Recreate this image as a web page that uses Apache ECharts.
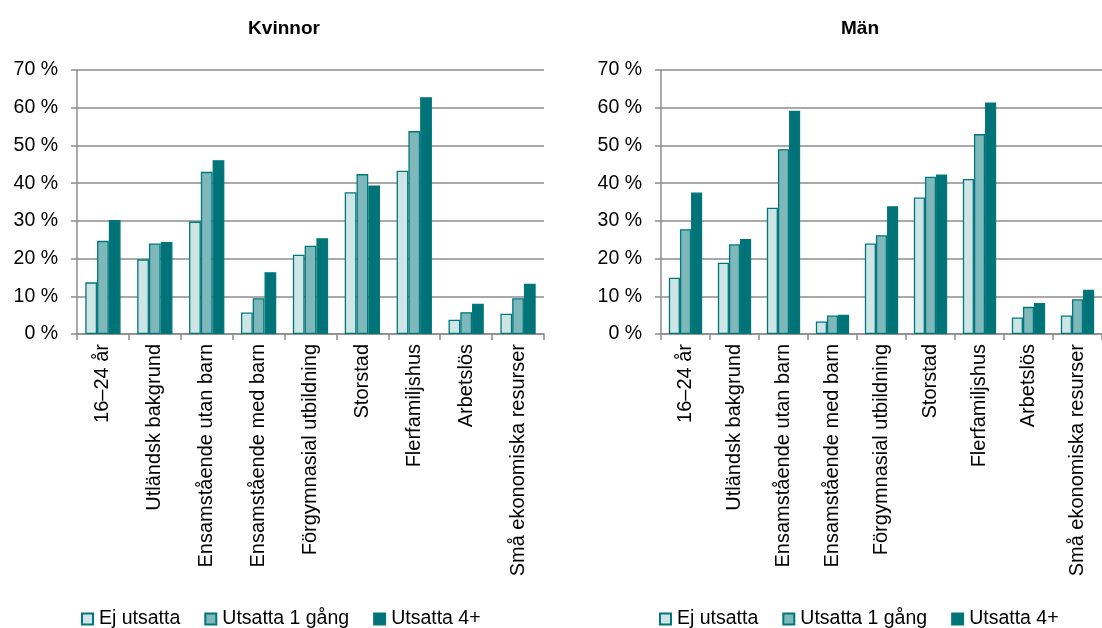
<!DOCTYPE html>
<html><head><meta charset="utf-8">
<script src="https://cdn.jsdelivr.net/npm/echarts@6/dist/echarts.min.js"></script>
<style>html,body{margin:0;padding:0;background:#fff}#c{width:1102px;height:628px}</style>
</head><body><div id="c"></div>
<script>
const categories = ['16–24 år','Utländsk bakgrund','Ensamstående utan barn','Ensamstående med barn','Förgymnasial utbildning','Storstad','Flerfamiljshus','Arbetslös','Små ekonomiska resurser'];
const seriesNames = ['Ej utsatta','Utsatta 1 gång','Utsatta 4+'];
const kvinnorEj = [13.7,19.8,29.8,5.7,21.0,37.6,43.3,3.8,5.4];
const kvinnor1 = [24.7,24.0,43.0,9.5,23.4,42.4,53.8,5.8,9.5];
const kvinnor4 = [30.2,24.4,46.1,16.4,25.4,39.4,62.8,8.0,13.3];
const manEj = [14.9,18.9,33.5,3.3,24.0,36.2,41.1,4.4,4.9];
const man1 = [27.8,23.8,49.0,4.9,26.2,41.7,53.0,7.2,9.2];
const man4 = [37.5,25.2,59.2,5.1,33.9,42.3,61.4,8.2,11.7];
const yTicks = {min:0,max:70,interval:10};

const fills = ['#cde5e5','#7fb8bb','#007378'];
const border = '#00777b';
const font = "'Liberation Sans', Arial, sans-serif";

function xAxis(i){return {type:'category',gridIndex:i,data:categories,
  axisLine:{lineStyle:{color:'#8c8c8c',width:1.5}},
  axisTick:{show:true,length:6,lineStyle:{color:'#8c8c8c',width:1.5}},
  axisLabel:{rotate:90,margin:10,fontSize:20,color:'#000',fontFamily:font,interval:0}};}
function yAxis(i){return {type:'value',gridIndex:i,min:yTicks.min,max:yTicks.max,interval:yTicks.interval,
  axisLine:{show:true,lineStyle:{color:'#8c8c8c',width:1.5}},
  axisTick:{show:true,length:6,lineStyle:{color:'#8c8c8c',width:1.5}},
  splitLine:{lineStyle:{color:'#8c8c8c',width:1.5}},
  axisLabel:{formatter:'{value} %',margin:19,fontSize:19.5,color:'#000',fontFamily:font}};}
function bar(name,data,k,i){return {type:'bar',name:name,data:data,xAxisIndex:i,yAxisIndex:i,
  barGap:'0%',barCategoryGap:'32%',
  itemStyle:{color:fills[k],borderColor:border,borderWidth:1.3},
  emphasis:{disabled:true}};}

const chart = echarts.init(document.getElementById('c'),null,{renderer:'canvas'});
chart.setOption({
  animation:false,
  backgroundColor:'#fff',
  title:[
    {text:'Kvinnor',left:279,top:14,textAlign:'center',textStyle:{fontSize:19,fontWeight:'bold',color:'#000',fontFamily:font}},
    {text:'Män',left:855,top:14,textAlign:'center',textStyle:{fontSize:19,fontWeight:'bold',color:'#000',fontFamily:font}}
  ],
  legend:[
    {left:76,top:604,itemWidth:11,itemHeight:11,itemGap:24,icon:'rect',data:seriesNames,
     textStyle:{fontSize:19.5,color:'#000',fontFamily:font,padding:[0,0,0,1]}},
    {left:654,top:604,itemWidth:11,itemHeight:11,itemGap:24,icon:'rect',data:seriesNames,
     textStyle:{fontSize:19.5,color:'#000',fontFamily:font,padding:[0,0,0,1]}}
  ],
  grid:[
    {left:77,top:70,width:467,height:264},
    {left:661,top:70,width:452,height:264}
  ],
  xAxis:[xAxis(0),xAxis(1)],
  yAxis:[yAxis(0),yAxis(1)],
  series:[
    bar(seriesNames[0],kvinnorEj,0,0),bar(seriesNames[1],kvinnor1,1,0),bar(seriesNames[2],kvinnor4,2,0),
    bar(seriesNames[0],manEj,0,1),bar(seriesNames[1],man1,1,1),bar(seriesNames[2],man4,2,1)
  ]
});
</script></body></html>
